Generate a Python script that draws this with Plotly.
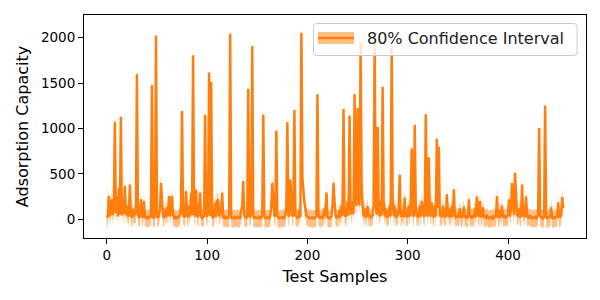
import plotly.graph_objects as go

# Adsorption capacity per test sample
values = [
    15, 35, 255, 30, 110, 220, 45, 150, 1073, 70,
    250, 30, 347, 50, 1128, 40, 200, 60, 370, 45,
    150, 30, 60, 383, 35, 20, 110, 30, 70, 60,
    1600, 45, 20, 30, 219, 40, 15, 200, 30, 15,
    25, 10, 20, 35, 30, 1480, 20, 15, 40, 2025,
    30, 15, 45, 120, 400, 160, 30, 15, 110, 20,
    130, 35, 255, 30, 140, 255, 40, 15, 25, 10,
    20, 15, 45, 30, 150, 1193, 60, 20, 40, 310,
    45, 20, 150, 30, 293, 45, 1806, 60, 30, 328,
    40, 20, 130, 293, 30, 15, 40, 20, 1150, 45,
    30, 130, 1617, 35, 1514, 30, 15, 45, 185, 25,
    200, 219, 30, 120, 45, 293, 20, 15, 30, 10,
    20, 15, 40, 2043, 20, 10, 15, 25, 10, 15,
    30, 20, 10, 15, 110, 160, 420, 45, 20, 15,
    30, 1434, 40, 20, 120, 1908, 30, 15, 20, 10,
    15, 25, 10, 20, 15, 45, 1150, 30, 15, 10,
    20, 15, 10, 40, 150, 400, 150, 30, 45, 978,
    30, 15, 10, 20, 15, 25, 10, 20, 45, 150,
    1070, 30, 45, 437, 120, 30, 45, 1204, 40, 20,
    15, 30, 100, 20, 2054, 460, 300, 180, 120, 40,
    30, 20, 15, 10, 20, 15, 10, 15, 20, 30,
    1376, 40, 20, 15, 30, 20, 40, 120, 30, 293,
    20, 15, 10, 20, 30, 150, 400, 200, 45, 20,
    30, 15, 100, 20, 150, 40, 1215, 60, 30, 45,
    200, 40, 1142, 150, 50, 200, 60, 1380, 200, 150,
    1226, 300, 150, 1950, 400, 150, 30, 120, 20, 45,
    145, 30, 40, 20, 30, 45, 150, 1970, 200, 50,
    1020, 150, 30, 200, 45, 1460, 200, 30, 120, 20,
    30, 45, 150, 30, 1900, 200, 40, 150, 20, 30,
    45, 120, 490, 40, 30, 100, 20, 240, 30, 45,
    20, 150, 30, 200, 780, 45, 30, 1040, 150, 30,
    45, 20, 150, 30, 200, 120, 40, 30, 1157, 150,
    30, 682, 120, 30, 185, 45, 20, 150, 30, 887,
    120, 800, 30, 45, 20, 150, 30, 45, 20, 275,
    30, 120, 20, 45, 150, 30, 330, 45, 20, 30,
    45, 20, 120, 30, 15, 45, 140, 20, 30, 15,
    25, 220, 30, 20, 45, 15, 30, 120, 20, 250,
    45, 30, 200, 20, 45, 130, 20, 30, 15, 40,
    20, 10, 15, 20, 10, 30, 15, 40, 20, 255,
    30, 15, 100, 20, 150, 30, 15, 45, 20, 30,
    45, 220, 30, 120, 400, 150, 45, 511, 200, 45,
    30, 120, 20, 45, 383, 30, 120, 20, 250, 30,
    20, 45, 15, 30, 10, 20, 15, 25, 10, 30,
    45, 1004, 30, 20, 15, 10, 30, 1252, 20, 10,
    15, 30, 20, 130, 15, 10, 20, 15, 30, 20,
    185, 15, 30, 45, 245, 120,
]
# Interval half-widths (below / above the prediction)
ci_below = 105
ci_above = 85

x_ticks = [0, 100, 200, 300, 400]
y_ticks = [0, 500, 1000, 1500, 2000]
legend_label = "80% Confidence Interval"
x_title = "Test Samples"
y_title = "Adsorption Capacity"

samples = list(range(len(values)))
lower = [v - ci_below for v in values]
upper = [v + ci_above for v in values]

ORANGE = "#ff7f0e"
FILL = "rgba(255,127,14,0.5)"
FONT = "DejaVu Sans"

fig = go.Figure()
fig.add_trace(go.Scatter(x=samples, y=lower, mode="lines", line=dict(width=0),
                         showlegend=False, hoverinfo="skip"))
fig.add_trace(go.Scatter(x=samples, y=upper, mode="lines", line=dict(width=0),
                         fill="tonexty", fillcolor=FILL, showlegend=False, hoverinfo="skip"))
fig.add_trace(go.Scatter(x=samples, y=values, mode="lines",
                         line=dict(color=ORANGE, width=2.5), showlegend=False))

n = len(values) - 1
xpad = 0.05 * n
ymin, ymax = min(lower), max(upper)
ypad = 0.05 * (ymax - ymin)

# plot area in pixels: left 84, right 586, top 15, bottom 238
L, R, T, B = 84, 586, 15, 238
def px(p):
    return (p - L) / (R - L)
def py(p):
    return (B - p) / (B - T)

shapes = []
# legend box with rounded corners
x0, x1, y0, y1 = px(313.5), px(577), py(55.5), py(23.5)
rx, ry = 3 / (R - L), 3 / (B - T)
path = (f"M{x0+rx},{y0} L{x1-rx},{y0} Q{x1},{y0} {x1},{y0+ry} "
        f"L{x1},{y1-ry} Q{x1},{y1} {x1-rx},{y1} L{x0+rx},{y1} Q{x0},{y1} {x0},{y1-ry} "
        f"L{x0},{y0+ry} Q{x0},{y0} {x0+rx},{y0} Z")
shapes.append(dict(type="path", xref="paper", yref="paper", path=path,
                   fillcolor="rgba(255,255,255,0.8)", line=dict(color="#cccccc", width=1)))
shapes.append(dict(type="rect", xref="paper", yref="paper",
                   x0=px(318), x1=px(354), y0=py(44), y1=py(32),
                   fillcolor=FILL, line=dict(width=0)))
shapes.append(dict(type="line", xref="paper", yref="paper",
                   x0=px(318), x1=px(354), y0=py(38), y1=py(38),
                   line=dict(color=ORANGE, width=2.5)))

fig.update_layout(
    width=600, height=300,
    margin=dict(l=L, r=600 - R, t=T, b=300 - B),
    paper_bgcolor="white", plot_bgcolor="white",
    font=dict(family=FONT, size=14, color="black"),
    showlegend=False,
    shapes=shapes,
    annotations=[dict(xref="paper", yref="paper", x=px(365), y=py(38.5),
                      xanchor="left", yanchor="middle", text=legend_label,
                      showarrow=False, font=dict(family=FONT, size=16, color="#222222"))],
    xaxis=dict(range=[-xpad, n + xpad], tickvals=x_ticks, ticktext=[str(t) for t in x_ticks],
               showline=True, linecolor="black", linewidth=1, mirror=True,
               ticks="outside", ticklen=5, tickwidth=1, tickcolor="black",
               showgrid=False, zeroline=False, tickfont=dict(size=13.5),
               title=dict(text=x_title, font=dict(size=16), standoff=8)),
    yaxis=dict(range=[ymin - ypad, ymax + ypad], tickvals=y_ticks, ticktext=[str(t) for t in y_ticks],
               showline=True, linecolor="black", linewidth=1, mirror=True,
               ticks="outside", ticklen=5, tickwidth=1, tickcolor="black",
               showgrid=False, zeroline=False, tickfont=dict(size=13.5),
               title=dict(text=y_title, font=dict(size=16), standoff=8)),
)

fig.write_html("out.html")
